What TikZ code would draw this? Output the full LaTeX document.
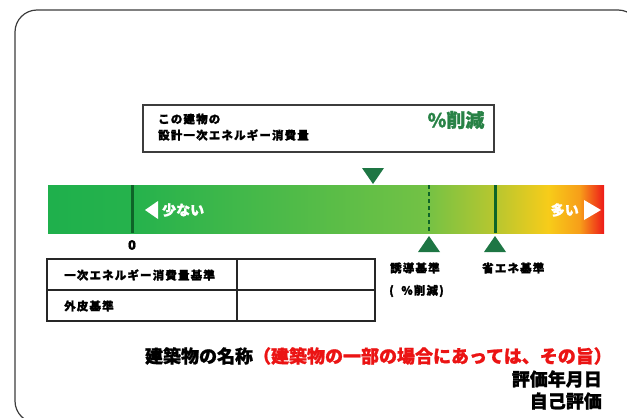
\documentclass[tikz,border=0pt]{standalone}
\usepackage{fontspec}
\newfontfamily\jp{Noto Sans CJK JP}
\newfontfamily\jpfb{Noto Sans CJK JP}[FakeBold=1.2]
\newfontfamily\jpsp{Noto Sans CJK JP}[LetterSpace=10,FakeBold=1.5]
\definecolor{framegray}{RGB}{60,60,60}
\definecolor{darkline}{RGB}{14,100,40}
\definecolor{tri}{RGB}{30,118,68}
\definecolor{pctgreen}{RGB}{40,130,70}
\definecolor{redtxt}{RGB}{235,20,20}
\pgfdeclarehorizontalshading{barshade}{100bp}{
  rgb(0bp)=(0.12,0.69,0.30);
  rgb(25bp)=(0.12,0.69,0.30);
  rgb(33bp)=(0.15,0.70,0.30);
  rgb(59bp)=(0.45,0.76,0.27);
  rgb(65.6bp)=(0.74,0.78,0.18);
  rgb(70bp)=(0.97,0.80,0.10);
  rgb(72.8bp)=(0.97,0.62,0.10);
  rgb(75bp)=(0.93,0.10,0.10);
  rgb(100bp)=(0.93,0.10,0.10)}
\tikzset{
  frame/.style={draw=framegray,line width=1.2pt,rounded corners=22pt},
  boxline/.style={draw=framegray,line width=1.4pt},
  tbl/.style={draw=black!85,line width=1.8pt},
  smalltxt/.style={font=\jpsp\bfseries\fontsize{11.5}{13}\selectfont,inner sep=0pt,anchor=west},
  bigtxt/.style={font=\jpfb\bfseries\fontsize{18}{20}\selectfont,inner sep=0pt},
  bartxt/.style={font=\jpfb\bfseries\fontsize{14}{16}\selectfont,text=white,inner sep=0pt},
  marker/.style={fill=tri},
}
\begin{document}
\begin{tikzpicture}[x=1pt,y=-1pt]
\useasboundingbox (0,0) rectangle (627,418);
\clip (0,0) rectangle (627,418);
% outer frame
\draw[frame] (15,10) rectangle (640,423);
% top box
\draw[boxline] (143,105) rectangle (494,152);
\node[smalltxt] (t1) at (158,119) {この建物の};
\node[smalltxt] (t2) at (158,135) {設計一次エネルギー消費量};
\node[font=\jpfb\bfseries\fontsize{19}{21}\selectfont,text=pctgreen,inner sep=0pt] (pct) at (456,120) {\%削減};
% marker on bar
\fill[marker] (362,168) -- (384,168) -- (373,184) -- cycle;
% bar
\shade[shading=barshade] (48,185) rectangle (604,233);
\coordinate (zt) at (132,185); \coordinate (zb) at (132,233);
\coordinate (it) at (429,185); \coordinate (ib) at (429,233);
\coordinate (st) at (495,185); \coordinate (sb) at (495,233);
\draw[darkline,line width=3pt] (zt) -- (zb);
\draw[darkline,line width=1.2pt,dash pattern=on 4pt off 3pt] (it) -- (ib);
\draw[darkline,line width=3pt] (st) -- (sb);
% arrows inside bar
\fill[white] (145,210) -- (158,201) -- (158,219) -- cycle;
\node[bartxt,anchor=west] (few) at (162,210) {少ない};
\node[bartxt,anchor=east] (many) at (579,210) {多い};
\fill[white] (601,210) -- (584,200) -- (584,220) -- cycle;
% up markers
\fill[marker] (429,236) -- (440,252) -- (418,252) -- cycle;
\fill[marker] (495,236) -- (506,252) -- (484,252) -- cycle;
% labels below bar
\node[font=\jpfb\bfseries\fontsize{13}{15}\selectfont,inner sep=0pt] (zero) at (132,245) {0};
\node[smalltxt] (ind) at (390,268) {誘導基準};
\node[smalltxt] (pcut) at (389,291) {( \ \%削減)};
\node[smalltxt] (sav) at (482,268) {省エネ基準};
% table
\draw[tbl] (47,259) rectangle (375,321);
\draw[tbl] (47,290) -- (375,290);
\draw[tbl] (237,259) -- (237,321);
\node[smalltxt] (r1) at (64,275) {一次エネルギー消費量基準};
\node[smalltxt] (r2) at (64,306) {外皮基準};
% bottom texts
\node[bigtxt,anchor=east] (name) at (612,356) {建築物の名称\textcolor{redtxt}{（建築物の一部の場合にあっては、その旨）}};
\node[bigtxt,anchor=east] (date) at (602,379) {評価年月日};
\node[bigtxt,anchor=east] (self) at (602,401) {自己評価};
\end{tikzpicture}
\end{document}
